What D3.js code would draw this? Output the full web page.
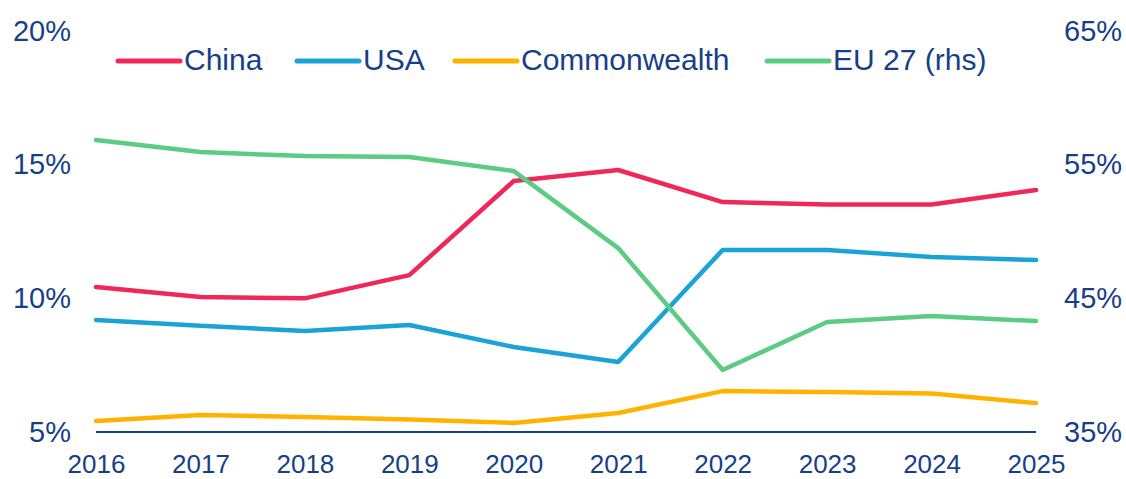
<!DOCTYPE html>
<html>
<head>
<meta charset="utf-8">
<script src="https://cdn.jsdelivr.net/npm/d3@7/dist/d3.min.js"></script>
<style>
  body { margin: 0; background: #fff; }
  svg text { font-family: "Liberation Sans", Arial, sans-serif; fill: #173F88; }
</style>
</head>
<body>
<script>
var years = [2016, 2017, 2018, 2019, 2020, 2021, 2022, 2023, 2024, 2025];
var china = [10.42, 10.05, 10.0, 10.87, 14.39, 14.8, 13.6, 13.51, 13.51, 14.05];
var usa = [9.19, 8.97, 8.78, 9.0, 8.18, 7.62, 11.81, 11.81, 11.55, 11.43];
var commonwealth = [5.41, 5.64, 5.56, 5.47, 5.34, 5.71, 6.53, 6.5, 6.44, 6.08];
var eu27 = [56.84, 55.94, 55.64, 55.57, 54.52, 48.76, 39.64, 43.23, 43.68, 43.3];
var leftTicks = [5, 10, 15, 20];
var rightTicks = [35, 45, 55, 65];

var width = 1126, height = 479;
var margin = {top: 31, right: 90, bottom: 47, left: 96};

var svg = d3.select("body").append("svg")
	.attr("width", width)
	.attr("height", height);

var xScale = d3.scalePoint()
	.domain(years)
	.range([margin.left, 1036]);

var yLeft = d3.scaleLinear()
	.domain([5, 20])
	.range([432, margin.top]);

var yRight = d3.scaleLinear()
	.domain([35, 65])
	.range([432, margin.top]);

var series = [
	{name: "China", values: china, color: "#F0285A", axis: yLeft},
	{name: "USA", values: usa, color: "#1BA3D8", axis: yLeft},
	{name: "Commonwealth", values: commonwealth, color: "#FFB300", axis: yLeft},
	{name: "EU 27 (rhs)", values: eu27, color: "#5CCB83", axis: yRight}
];

// left axis labels
svg.append("g")
	.attr("transform", "translate(71,0)")
	.call(d3.axisLeft(yLeft).tickValues(leftTicks).tickSize(0).tickPadding(0)
		.tickFormat(function(d) { return d + "%"; }))
	.call(function(g) { g.select(".domain").remove(); })
	.selectAll("text")
	.attr("fill", "#173F88")
	.style("font-size", "29px");

// right axis labels
svg.append("g")
	.attr("transform", "translate(1064,0)")
	.call(d3.axisRight(yRight).tickValues(rightTicks).tickSize(0).tickPadding(0)
		.tickFormat(function(d) { return d + "%"; }))
	.call(function(g) { g.select(".domain").remove(); })
	.selectAll("text")
	.attr("fill", "#173F88")
	.style("font-size", "29px");

// x axis labels
svg.append("g")
	.attr("transform", "translate(0,455)")
	.call(d3.axisBottom(xScale).tickSize(0).tickPadding(0))
	.call(function(g) { g.select(".domain").remove(); })
	.selectAll("text")
	.attr("fill", "#173F88")
	.attr("dy", "0.71em")
	.style("font-size", "26px");

// baseline
svg.append("line")
	.attr("x1", xScale(2016))
	.attr("x2", xScale(2025))
	.attr("y1", yLeft(5))
	.attr("y2", yLeft(5))
	.attr("stroke", "#173F88")
	.attr("stroke-width", 2);

series.forEach(function(s) {
	var line = d3.line()
		.x(function(d, i) { return xScale(years[i]); })
		.y(function(d) { return s.axis(d); });
	svg.append("path")
		.datum(s.values)
		.attr("fill", "none")
		.attr("stroke", s.color)
		.attr("stroke-width", 4.5)
		.attr("stroke-linejoin", "round")
		.attr("stroke-linecap", "round")
		.attr("d", line);
});

// legend
var legendX = [118, 297, 455, 767];
var legend = svg.selectAll(".legend")
	.data(series)
	.enter().append("g")
	.attr("class", "legend")
	.attr("transform", function(d, i) { return "translate(" + legendX[i] + ",61)"; });

legend.append("line")
	.attr("x1", 0).attr("x2", 62)
	.attr("y1", 0).attr("y2", 0)
	.attr("stroke", function(d) { return d.color; })
	.attr("stroke-width", 5)
	.attr("stroke-linecap", "round");

legend.append("text")
	.attr("x", 66)
	.attr("y", 9)
	.style("font-size", "30px")
	.text(function(d) { return d.name; });
</script>
</body>
</html>
